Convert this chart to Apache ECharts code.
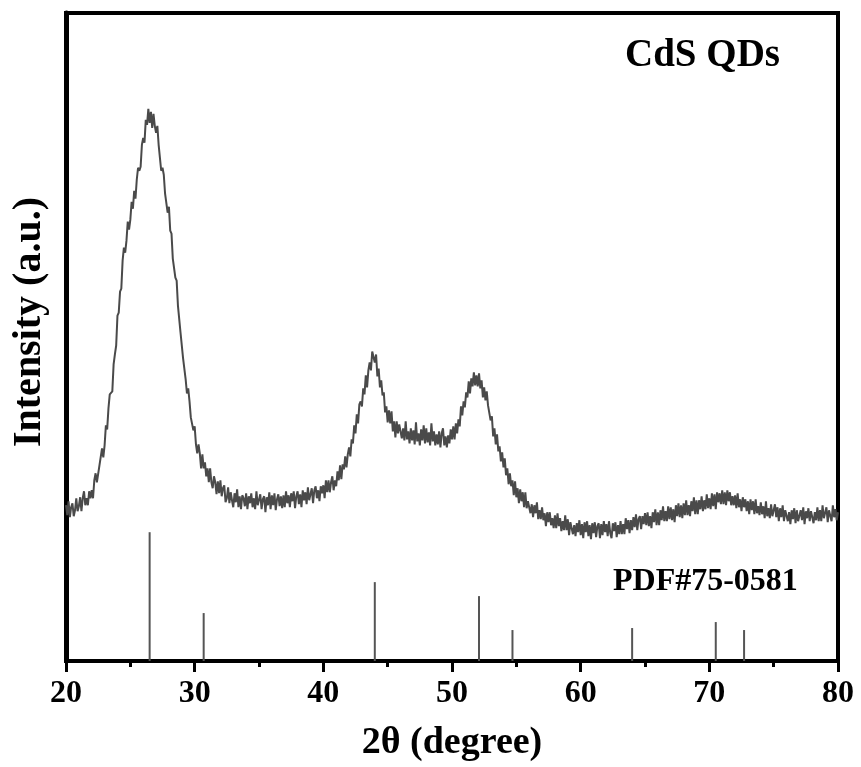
<!DOCTYPE html>
<html>
<head>
<meta charset="utf-8">
<script src="https://cdn.jsdelivr.net/npm/echarts@6/dist/echarts.min.js"></script>
<style>
html, body { margin: 0; padding: 0; background: #fff; }
#chart { width: 861px; height: 767px; }
</style>
</head>
<body>
<div id="chart"></div>
<script>
// Scan grid: 2theta from 20 to 80 in 0.1 degree steps
var scanStart = 20;
var scanStep = 0.1;
var intensity = [
    156, 146, 160, 144, 154, 158, 145, 151, 163, 150, // 20
    155, 164, 150, 163, 170, 156, 163, 156, 170, 163, // 21
    171, 163, 181, 188, 179, 180, 196, 195, 213, 204, // 22
    216, 236, 232, 253, 267, 266, 270, 297, 307, 316, // 23
    346, 349, 370, 373, 401, 414, 409, 421, 440, 432, // 24
    442, 460, 453, 471, 463, 482, 494, 491, 495, 517, // 25
    524, 519, 542, 537, 553, 539, 550, 534, 548, 536, // 26
    529, 536, 517, 518, 491, 494, 487, 468, 466, 449, // 27
    455, 431, 428, 403, 404, 384, 381, 356, 354, 329, // 28
    329, 303, 304, 282, 268, 273, 260, 244, 246, 231, // 29
    235, 217, 208, 217, 208, 193, 207, 193, 199, 185, // 30
    193, 179, 193, 179, 173, 185, 179, 167, 180, 168, // 31
    181, 165, 173, 176, 159, 163, 174, 158, 169, 161, // 32
    154, 168, 159, 172, 154, 165, 152, 166, 163, 155, // 33
    168, 152, 165, 158, 168, 154, 163, 152, 170, 156, // 34
    155, 167, 152, 162, 165, 149, 164, 156, 169, 152, // 35
    166, 156, 168, 151, 162, 167, 155, 165, 153, 166, // 36
    154, 170, 158, 166, 154, 168, 160, 170, 153, 165, // 37
    170, 157, 167, 154, 171, 161, 169, 157, 174, 161, // 38
    160, 173, 158, 171, 175, 163, 171, 160, 175, 168, // 39
    176, 163, 181, 169, 181, 169, 179, 185, 171, 181, // 40
    175, 190, 181, 196, 182, 197, 192, 205, 194, 207, // 41
    214, 205, 222, 218, 236, 228, 247, 238, 257, 260, // 42
    255, 273, 267, 286, 274, 291, 299, 291, 310, 308, // 43
    299, 307, 285, 293, 274, 281, 266, 269, 249, 255, // 44
    239, 251, 238, 250, 230, 240, 224, 240, 228, 237, // 45
    239, 223, 233, 221, 240, 222, 230, 218, 233, 221, // 46
    231, 217, 239, 220, 228, 216, 232, 221, 236, 218, // 47
    233, 219, 229, 216, 238, 220, 230, 216, 227, 217, // 48
    230, 214, 228, 233, 216, 225, 214, 226, 218, 232, // 49
    222, 235, 222, 238, 228, 242, 235, 255, 246, 260, // 50
    254, 269, 264, 280, 268, 283, 275, 289, 276, 286, // 51
    275, 288, 273, 281, 264, 274, 261, 270, 256, 257, // 52
    241, 245, 225, 233, 217, 227, 210, 215, 200, 209, // 53
    194, 203, 186, 193, 177, 188, 175, 181, 166, 180, // 54
    164, 173, 158, 172, 160, 169, 154, 169, 153, 160, // 55
    162, 148, 157, 144, 156, 148, 159, 142, 151, 142, // 56
    154, 141, 148, 135, 149, 139, 149, 136, 143, 133, // 57
    146, 133, 148, 135, 143, 130, 140, 131, 146, 131, // 58
    142, 126, 139, 141, 127, 136, 125, 138, 129, 141, // 59
    126, 137, 123, 139, 129, 140, 125, 136, 122, 138, // 60
    128, 139, 124, 135, 138, 123, 137, 126, 140, 129, // 61
    137, 125, 140, 128, 123, 138, 130, 139, 124, 136, // 62
    127, 140, 127, 137, 127, 143, 132, 141, 128, 141, // 63
    131, 144, 134, 147, 131, 142, 145, 132, 145, 137, // 64
    148, 136, 149, 135, 145, 133, 149, 139, 152, 136, // 65
    149, 136, 151, 141, 155, 140, 150, 140, 155, 142, // 66
    154, 141, 152, 139, 156, 145, 158, 144, 156, 143, // 67
    158, 146, 161, 146, 156, 145, 160, 150, 164, 147, // 68
    161, 147, 161, 152, 165, 150, 161, 152, 167, 153, // 69
    163, 152, 168, 155, 167, 152, 169, 159, 168, 157, // 70
    171, 157, 169, 156, 171, 160, 169, 156, 165, 156, // 71
    166, 153, 168, 154, 162, 150, 164, 154, 162, 150, // 72
    160, 147, 162, 151, 160, 147, 162, 148, 155, 146, // 73
    159, 147, 155, 143, 160, 145, 153, 143, 157, 145, // 74
    143, 157, 144, 154, 140, 153, 144, 156, 140, 151, // 75
    153, 140, 149, 137, 151, 142, 153, 138, 151, 140, // 76
    138, 151, 141, 154, 137, 150, 143, 153, 140, 150, // 77
    152, 138, 149, 141, 154, 140, 151, 140, 156, 143, // 78
    142, 154, 139, 151, 153, 140, 156, 144, 152, 141, // 79
    149                                               // 80
];
// Standard card PDF#75-0581 (cubic CdS)
var refPos = [26.5, 30.7, 44.0, 52.1, 54.7, 64.0, 70.5, 72.7];
var refHeight = [129, 48, 79, 65, 31, 33, 39, 31];
var xTicks = [20, 30, 40, 50, 60, 70, 80];

var curve = [];
for (var i = 0; i < intensity.length; i++) {
    curve.push([+(scanStart + i * scanStep).toFixed(1), intensity[i]]);
}
var sticks = [];
for (var j = 0; j < refPos.length; j++) {
    sticks.push([refPos[j], refHeight[j]]);
}

var chart = echarts.init(document.getElementById('chart'));
var serif = '"Liberation Serif", "DejaVu Serif", serif';

chart.setOption({
    animation: false,
    backgroundColor: '#fff',
    grid: {
        left: 66,
        right: 23,
        top: 13,
        bottom: 105,
        show: true,
        borderColor: '#000',
        borderWidth: 4
    },
    xAxis: {
        type: 'value',
        min: xTicks[0],
        max: xTicks[xTicks.length - 1],
        interval: 10,
        name: '2θ (degree)',
        nameLocation: 'middle',
        nameGap: 63,
        nameTextStyle: { fontFamily: serif, fontWeight: 'bold', fontSize: 38, color: '#000' },
        axisLine: { lineStyle: { color: '#000', width: 4 } },
        axisTick: { show: true, length: 11, lineStyle: { color: '#000', width: 3 } },
        minorTick: { show: true, splitNumber: 2, length: 6, lineStyle: { color: '#000', width: 3 } },
        axisLabel: { margin: 17, fontFamily: serif, fontWeight: 'bold', fontSize: 32, color: '#000' },
        splitLine: { show: false }
    },
    yAxis: {
        type: 'value',
        min: 0,
        max: 649,
        name: 'Intensity (a.u.)',
        nameLocation: 'middle',
        nameGap: 16,
        nameTextStyle: {
            fontFamily: serif, fontWeight: 'bold', fontSize: 40, color: '#000',
            padding: [0, 0, 0, 30]
        },
        axisLine: { show: true, lineStyle: { color: '#000', width: 5 } },
        axisTick: { show: false },
        axisLabel: { show: false },
        splitLine: { show: false }
    },
    graphic: [{
        type: 'text',
        left: 625,
        top: 36,
        style: { text: 'CdS QDs', font: 'bold 39px ' + serif, fill: '#000' }
    }, {
        type: 'text',
        left: 613,
        top: 566,
        style: { text: 'PDF#75-0581', font: 'bold 32px ' + serif, fill: '#000' }
    }],
    series: [{
        name: 'CdS QDs',
        type: 'line',
        data: curve,
        showSymbol: false,
        lineStyle: { color: '#4a4a4a', width: 2 }
    }, {
        name: 'PDF#75-0581',
        type: 'bar',
        data: sticks,
        barWidth: 2,
        itemStyle: { color: '#555' }
    }]
});
</script>
</body>
</html>
